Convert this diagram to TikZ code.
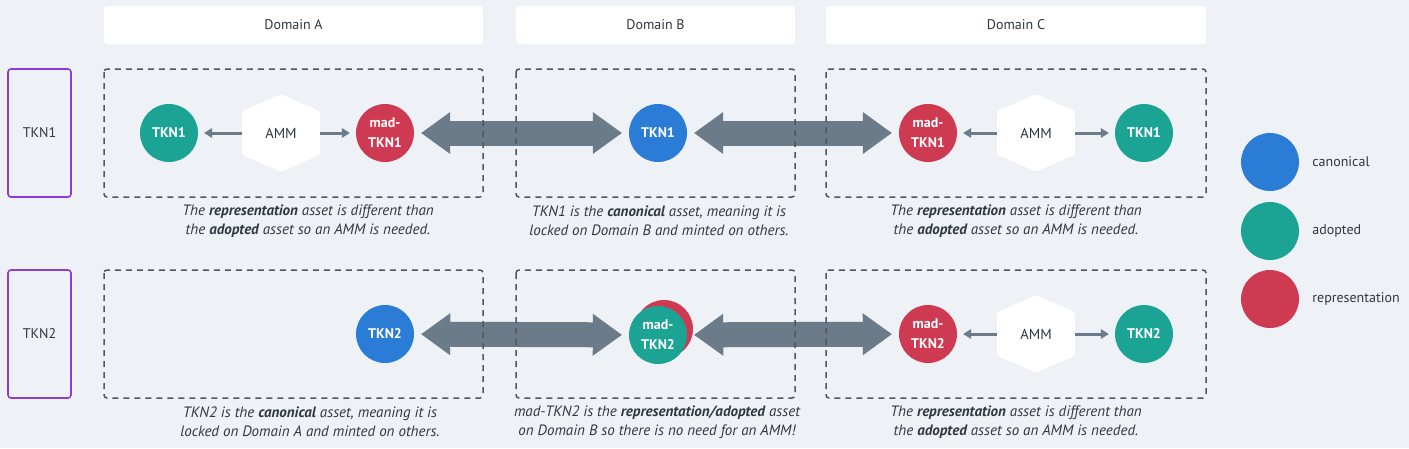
\documentclass[tikz,border=0pt]{standalone}
\usepackage{fontspec}
\setmainfont{PT Sans}
\usetikzlibrary{shapes,arrows.meta}
\usetikzlibrary{calc,positioning,backgrounds}
\definecolor{bgcol}{HTML}{EEF1F6}
\definecolor{bluecol}{HTML}{2B7CD6}
\definecolor{greencol}{HTML}{1BA393}
\definecolor{redcol}{HTML}{CE3A51}
\definecolor{arrowcol}{HTML}{6C7B8A}
\definecolor{dashcol}{HTML}{50575F}
\definecolor{purplecol}{HTML}{8B3CD8}
\definecolor{txtcol}{HTML}{2F3740}
\tikzstyle{domhead} = [rectangle,fill=white,rounded corners=3pt,minimum height=38pt,inner sep=0pt,font=\fontsize{14}{16}\selectfont,text=txtcol]
\tikzstyle{rowlabel} = [rectangle,draw=purplecol,line width=1.6pt,rounded corners=3pt,minimum width=63pt,minimum height=128pt,font=\fontsize{14}{16}\selectfont,text=txtcol]
\tikzstyle{domframe} = [draw=dashcol,line width=1.5pt,dash pattern=on 6pt off 5pt,rounded corners=3pt]
\tikzstyle{tokcirc} = [circle,minimum size=58pt,inner sep=0pt,text=white,align=center,font=\fontsize{14}{20}\selectfont\bfseries]
\tikzstyle{canon} = [tokcirc,fill=bluecol]
\tikzstyle{adopt} = [tokcirc,fill=greencol]
\tikzstyle{repres} = [tokcirc,fill=redcol]
\tikzstyle{ammhex} = [rectangle,minimum width=78pt,minimum height=77pt,inner sep=0pt,font=\fontsize{14.5}{16}\selectfont,text=txtcol]
\tikzstyle{smallarrow} = [-{Triangle[width=10pt,length=8pt,line width=0pt]},line width=3pt,draw=arrowcol,shorten >=6pt]
\tikzstyle{bigarrow} = [{Triangle[width=42pt,length=29pt,line width=0pt]}-{Triangle[width=42pt,length=29pt,line width=0pt]},line width=25pt,draw=arrowcol,shorten >=7pt,shorten <=7pt]
\tikzstyle{caption} = [align=center,font=\fontsize{15}{19}\selectfont\itshape,text=txtcol]
\tikzstyle{legtext} = [inner sep=0pt,font=\fontsize{14}{16}\selectfont,text=txtcol]

\begin{document}
\begin{tikzpicture}[x=1pt,y=-1pt]
\useasboundingbox (0,0) rectangle (1409,448);

% headers and rows
\node (domA) [domhead,minimum width=379pt] at (293.5,25) {Domain A};
\node (domB) [domhead,minimum width=279pt] at (655.5,25) {Domain B};
\node (domC) [domhead,minimum width=380pt] at (1016,25) {Domain C};
\node (rowT1) [rowlabel] at (39.5,133) {TKN1};
\node (rowT2) [rowlabel] at (39.5,334) {TKN2};

% TKN1 row
\node (tknA1) [adopt] at (169,133) {TKN1};
\node (ammA1) [ammhex] at (281,133) {AMM};
\node (madA1) [repres] at (385,133) {mad-\\TKN1};
\node (tknB1) [canon] at (658,133) {TKN1};
\node (madC1) [repres] at (928,133) {mad-\\TKN1};
\node (ammC1) [ammhex] at (1036,133) {AMM};
\node (tknC1) [adopt] at (1144,133) {TKN1};

% TKN2 row
\node (tknA2) [canon] at (385,334) {TKN2};
\node (repB2) [repres] at (664,329) {};
\node (madB2) [adopt] at (658,335) {mad-\\TKN2};
\node (madC2) [repres] at (928,334) {mad-\\TKN2};
\node (ammC2) [ammhex] at (1036,334) {AMM};
\node (tknC2) [adopt] at (1144,334) {TKN2};

\begin{scope}[on background layer]
\fill[bgcol] (0,0) rectangle (1409,448);
\foreach \h in {ammA1,ammC1,ammC2}
{
	\fill[white,rounded corners=2pt] (\h.north)--($(\h.north east)+(0,17)$)--($(\h.south east)+(0,-17)$)--(\h.south)--($(\h.south west)+(0,-17)$)--($(\h.north west)+(0,17)$)--cycle;
}
\end{scope}

\draw[smallarrow] (ammA1)--(tknA1);
\draw[smallarrow] (ammA1)--(madA1);
\draw[smallarrow] (ammC1)--(madC1);
\draw[smallarrow] (ammC1)--(tknC1);
\draw[smallarrow] (ammC2)--(madC2);
\draw[smallarrow] (ammC2)--(tknC2);

\draw[bigarrow] (madA1)--(tknB1);
\draw[bigarrow] (tknB1)--(madC1);
\draw[bigarrow] (tknA2)--(madB2);
\draw[bigarrow] (madB2)--(madC2);

% dashed domain frames
\foreach \x/\w in {104/483,516/795,826/1206}
{
	\draw[domframe] (\x,69) rectangle (\w,197);
	\draw[domframe] (\x,270) rectangle (\w,398);
}

\node (capA1) [caption] at (308,221) {The \textbf{representation} asset is different than\\the \textbf{adopted} asset so an AMM is needed.};
\node (capB1) [caption] at (659,221) {TKN1 is the \textbf{canonical} asset, meaning it is\\locked on Domain B and minted on others.};
\node (capC1) [caption] at (1016,221) {The \textbf{representation} asset is different than\\the \textbf{adopted} asset so an AMM is needed.};
\node (capA2) [caption] at (310,422) {TKN2 is the \textbf{canonical} asset, meaning it is\\locked on Domain A and minted on others.};
\node (capB2) [caption] at (657,422) {mad-TKN2 is the \textbf{representation/adopted} asset\\on Domain B so there is no need for an AMM!};
\node (capC2) [caption] at (1016,422) {The \textbf{representation} asset is different than\\the \textbf{adopted} asset so an AMM is needed.};

% legend
\node (legcan) [canon] at (1270,162) {};
\node (legado) [adopt] at (1270,231) {};
\node (legrep) [repres] at (1270,299) {};
\node [legtext,right=13pt of legcan] {canonical};
\node [legtext,right=13pt of legado] {adopted};
\node [legtext,right=13pt of legrep] {representation};

\end{tikzpicture}
\end{document}
